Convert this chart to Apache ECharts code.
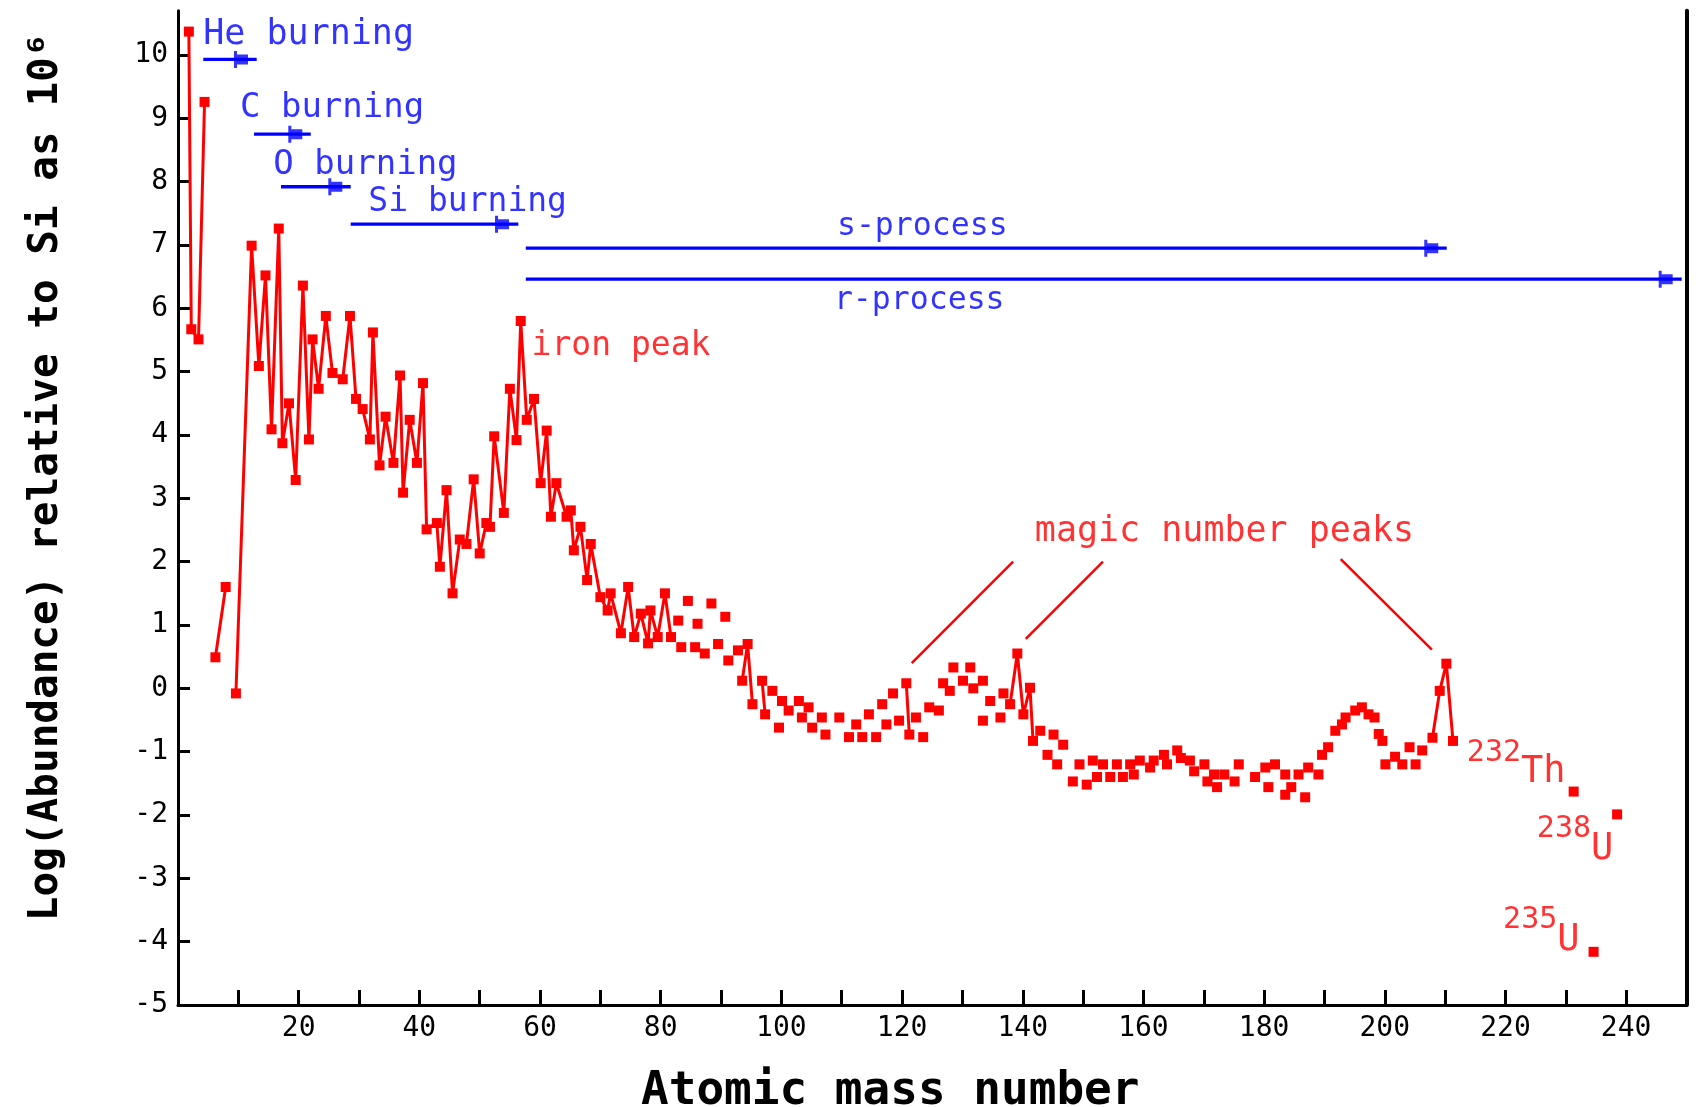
<!DOCTYPE html>
<html>
<head>
<meta charset="utf-8">
<script src="https://cdn.jsdelivr.net/npm/echarts@6/dist/echarts.min.js"></script>
<style>
html,body{margin:0;padding:0;background:#ffffff;}
#chart{width:1696px;height:1107px;}
</style>
</head>
<body>
<div id="chart"></div>
<script>
// ---- data ----
const massNumber = [
  1.8, 2.2, 3.4, 4.4, 6.2, 7.9, 9.6, 12.2, 13.4, 14.5, 15.5, 16.7, 17.3, 18.4, 19.5, 20.7,
  21.7, 22.3, 23.3, 24.5, 25.6, 27.3, 28.5, 29.5, 30.6, 31.8, 32.3, 33.4, 34.4, 35.7, 36.8,
  37.3, 38.4, 39.6, 40.6, 41.2, 42.9, 43.4, 44.5, 45.5, 46.7, 47.8, 49.0, 50.0, 51.1, 51.7,
  52.4, 54.0, 55.0, 56.1, 56.8, 57.8, 59.0, 60.1, 61.1, 61.8, 62.7, 64.4, 65.1, 65.6, 66.7,
  67.8, 68.4, 70.0, 71.2, 71.7, 73.4, 74.6, 75.6, 76.7, 77.9, 78.3, 79.5, 80.7, 81.7, 82.9,
  83.4, 84.5, 85.7, 86.1, 87.3, 88.4, 89.5, 90.7, 91.2, 92.8, 93.5, 94.4, 95.2, 96.8, 97.3,
  98.5, 99.6, 100.1, 101.2, 102.9, 103.4, 104.5, 105.1, 106.7, 107.3, 109.6, 111.2, 112.4,
  113.4, 114.5, 115.7, 116.7, 117.4, 118.5, 119.5, 120.7, 121.2, 122.3, 123.5, 124.5, 126.1,
  126.8, 127.9, 128.5, 130.1, 131.3, 131.8, 133.4, 133.4, 134.6, 136.3, 136.8, 137.9, 139.1,
  140.1, 141.2, 141.7, 142.9, 144.1, 145.1, 145.7, 146.7, 148.3, 149.4, 150.6, 151.6, 152.3,
  153.3, 154.5, 155.6, 156.6, 157.8, 158.4, 159.4, 161.1, 161.7, 163.4, 163.9, 165.6, 166.2,
  167.7, 168.4, 170.1, 170.6, 171.7, 172.2, 173.4, 175.1, 175.8, 178.5, 180.2, 180.7, 181.8,
  183.5, 183.5, 184.5, 185.7, 186.8, 187.3, 189.0, 189.6, 190.6, 191.8, 192.9, 193.5, 195.1,
  196.2, 197.3, 198.3, 199.0, 199.6, 200.1, 201.7, 202.9, 204.1, 205.1, 206.2, 207.9, 209.1,
  210.2, 211.3, 231.3, 234.6, 238.5
];
const logAbundance = [
  10.37, 5.67, 5.51, 9.26, 0.49, 1.60, -0.08, 6.99, 5.09, 6.52, 4.09, 7.26, 3.87, 4.50, 3.29, 6.36,
  3.93, 5.51, 4.73, 5.88, 4.98, 4.88, 5.88, 4.57, 4.41, 3.93, 5.62, 3.52, 4.29, 3.56, 4.94,
  3.09, 4.24, 3.56, 4.82, 2.51, 2.61, 1.92, 3.13, 1.50, 2.35, 2.28, 3.30, 2.13, 2.61, 2.55,
  3.98, 2.77, 4.73, 3.92, 5.80, 4.24, 4.57, 3.24, 4.07, 2.71, 3.24, 2.71, 2.81, 2.18, 2.55,
  1.71, 2.28, 1.44, 1.23, 1.50, 0.87, 1.60, 0.81, 1.18, 0.71, 1.23, 0.81, 1.50, 0.81, 1.07,
  0.65, 1.38, 0.65, 1.02, 0.55, 1.34, 0.70, 1.13, 0.44, 0.60, 0.12, 0.70, -0.25, 0.12, -0.41,
  -0.04, -0.62, -0.20, -0.35, -0.20, -0.46, -0.30, -0.62, -0.46, -0.73, -0.46, -0.77, -0.57,
  -0.77, -0.41, -0.77, -0.25, -0.57, -0.08, -0.51, 0.08, -0.73, -0.46, -0.77, -0.30, -0.35,
  0.08, -0.04, 0.33, 0.12, 0.33, 0.00, 0.12, -0.51, -0.20, -0.46, -0.08, -0.25, 0.55,
  -0.41, 0.01, -0.83, -0.67, -1.05, -0.73, -1.20, -0.89, -1.47, -1.20, -1.52, -1.14, -1.40,
  -1.20, -1.40, -1.20, -1.40, -1.20, -1.36, -1.14, -1.25, -1.14, -1.05, -1.20, -0.98, -1.10,
  -1.14, -1.31, -1.20, -1.47, -1.36, -1.56, -1.36, -1.47, -1.20, -1.40, -1.25, -1.56, -1.20,
  -1.36, -1.68, -1.56, -1.36, -1.72, -1.25, -1.36, -1.05, -0.93, -0.67, -0.57, -0.46, -0.35,
  -0.30, -0.41, -0.46, -0.72, -0.83, -1.20, -1.08, -1.20, -0.93, -1.20, -0.98, -0.78, -0.04,
  0.39, -0.83, -1.63, -4.16, -1.99
];
// mass-number ranges whose consecutive points are joined by a line
const joinedRuns = [[1.8, 4.4], [6.2, 7.9], [9.6, 81.7], [93.5, 95.2], [96.8, 97.3],
                    [120.7, 121.2], [137.9, 141.7], [207.9, 211.3]];

// tick labels
const xTickValues = [10,20,30,40,50,60,70,80,90,100,110,120,130,140,150,160,170,180,190,200,210,220,230,240];
const xTickLabels = [20,40,60,80,100,120,140,160,180,200,220,240];
const yTickValues = [-5,-4,-3,-2,-1,0,1,2,3,4,5,6,7,8,9,10];

// nucleosynthesis process arrows
const processNames = ['He burning', 'C burning', 'O burning', 'Si burning', 's-process', 'r-process'];
const processFrom  = [4.19, 12.6, 17.07, 28.62, 57.64, 57.64];
const processTo    = [13.04, 22.0, 28.62, 56.4, 210.26, 249.2];
const processLevel = [9.93, 8.75, 7.92, 7.33, 6.95, 6.46];
const processHead  = [10.44, 19.44, 26.07, 53.7, 207.7, 246.55];
const processLabelA = [4.19, 10.27, 15.8, 31.54, 109.2, 108.7];
const processLabelV = [10.32, 9.16, 8.26, 7.68, 7.29, 6.12];

// red annotations
const peakNames = ['iron peak', 'magic number peaks'];
const peakLabelA = [58.6, 142.0];
const peakLabelV = [5.40, 2.47];
const pointerFromA = [138.4, 153.3, 192.7];
const pointerFromV = [2.0, 2.0, 2.04];
const pointerToA = [121.6, 140.5, 207.8];
const pointerToV = [0.40, 0.78, 0.61];

const isotopeMass = ['232', '238', '235'];
const isotopeElement = ['Th', 'U', 'U'];
const isotopeLabelA = [213.6, 225.2, 219.6];
const isotopeLabelV = [-1.20, -2.41, -3.85];

// ---- build ----
const RED = '#ff0000', BLUE = '#0000ff', MONO = 'DejaVu Sans Mono';
const processFont = [35, 34, 34, 33, 31.5, 31.5];
const peakFont = [33, 35];
const points = massNumber.map((a, i) => [a, logAbundance[i]]);

const series = [];
joinedRuns.forEach(r => {
  series.push({
    type: 'line', silent: true, symbol: 'none', z: 2,
    lineStyle: { color: RED, width: 3 },
    data: points.filter(p => p[0] >= r[0] && p[0] <= r[1])
  });
});
series.push({
  type: 'scatter', name: 'abundance', symbol: 'rect', symbolSize: 10, z: 3,
  itemStyle: { color: RED, opacity: 1 },
  data: points
});
processNames.forEach((n, i) => {
  series.push({
    type: 'line', silent: true, symbol: 'none', z: 2,
    lineStyle: { color: BLUE, width: 3.3 },
    data: [[processFrom[i], processLevel[i]], [processTo[i], processLevel[i]]]
  });
});
series.push({
  type: 'scatter', silent: true, z: 3,
  symbol: 'path://M0,0H3V3.5H14V13.5H3V17H0Z', symbolSize: [14, 17],
  itemStyle: { color: BLUE },
  data: processHead.map((a, i) => [a, processLevel[i]])
});
series.push({
  type: 'scatter', silent: true, symbolSize: 0, z: 4,
  data: processNames.map((n, i) => ({
    value: [processLabelA[i], processLabelV[i]], name: n,
    label: { fontSize: processFont[i] }
  })),
  label: {
    show: true, position: [0, 0], align: 'left', verticalAlign: 'middle',
    formatter: p => p.name, color: BLUE, fontFamily: MONO, fontSize: 34
  }
});
pointerFromA.forEach((a, i) => {
  series.push({
    type: 'line', silent: true, symbol: 'none', z: 2,
    lineStyle: { color: RED, width: 2.5 },
    data: [[a, pointerFromV[i]], [pointerToA[i], pointerToV[i]]]
  });
});
series.push({
  type: 'scatter', silent: true, symbolSize: 0, z: 4,
  data: peakNames.map((n, i) => ({
    value: [peakLabelA[i], peakLabelV[i]], name: n,
    label: { fontSize: peakFont[i] }
  })),
  label: {
    show: true, position: [0, 0], align: 'left', verticalAlign: 'middle',
    formatter: p => p.name, color: RED, fontFamily: MONO, fontSize: 34
  }
});
series.push({
  type: 'scatter', silent: true, symbolSize: 0, z: 4,
  data: isotopeMass.map((m, i) => ({ value: [isotopeLabelA[i], isotopeLabelV[i]], name: m + isotopeElement[i] })),
  label: {
    show: true, position: [0, 0], align: 'left', verticalAlign: 'middle',
    formatter: p => '{sup|' + isotopeMass[p.dataIndex] + '}{el|' + isotopeElement[p.dataIndex] + '}',
    color: RED, fontFamily: MONO,
    rich: {
      sup: { fontSize: 30, lineHeight: 30, verticalAlign: 'top', color: RED, fontFamily: MONO },
      el: { fontSize: 37, lineHeight: 53, verticalAlign: 'bottom', color: RED, fontFamily: MONO }
    }
  }
});

const chart = echarts.init(document.getElementById('chart'), null, { renderer: 'canvas' });
chart.setOption({
  animation: false,
  backgroundColor: '#ffffff',
  grid: { left: 178, right: 9.5, top: 10.7, bottom: 102, containLabel: false, outerBoundsMode: 'none' },
  xAxis: {
    type: 'value', min: 0, max: 250, interval: 10,
    name: 'Atomic mass number', nameLocation: 'middle', nameGap: 64,
    nameTextStyle: { fontFamily: MONO, fontWeight: 'bold', fontSize: 46, color: '#000', padding: [0, 84, 0, 0] },
    axisLine: { show: true, onZero: false, lineStyle: { color: '#000', width: 3 } },
    axisTick: { show: true, inside: true, length: 15, lineStyle: { color: '#000', width: 3 }, customValues: xTickValues },
    axisLabel: {
      show: true, margin: 10, color: '#000', fontFamily: MONO, fontSize: 28,
      customValues: xTickLabels,
      formatter: v => (xTickLabels.indexOf(v) >= 0 ? String(v) : '')
    },
    splitLine: { show: false }
  },
  yAxis: [{
    type: 'value', min: -5, max: 10.7, interval: 1,
    name: 'Log(Abundance) relative to Si as 10\u2076', nameLocation: 'middle', nameGap: 111,
    nameTextStyle: { fontFamily: MONO, fontWeight: 'bold', fontSize: 41, color: '#000', padding: [0, 0, 0, 62] },
    axisLine: { show: true, onZero: false, lineStyle: { color: '#000', width: 3 } },
    axisTick: { show: true, inside: true, length: 12, lineStyle: { color: '#000', width: 3 }, customValues: yTickValues },
    axisLabel: {
      show: true, margin: 10, color: '#000', fontFamily: MONO, fontSize: 28,
      customValues: yTickValues,
      formatter: v => (Number.isInteger(v) ? String(v) : '')
    },
    splitLine: { show: false }
  }, {
    type: 'value', min: -5, max: 10.7, position: 'right',
    axisLine: { show: true, onZero: false, lineStyle: { color: '#000', width: 4 } },
    axisTick: { show: false }, axisLabel: { show: false }, splitLine: { show: false }
  }],
  series: series
});
</script>
</body>
</html>
